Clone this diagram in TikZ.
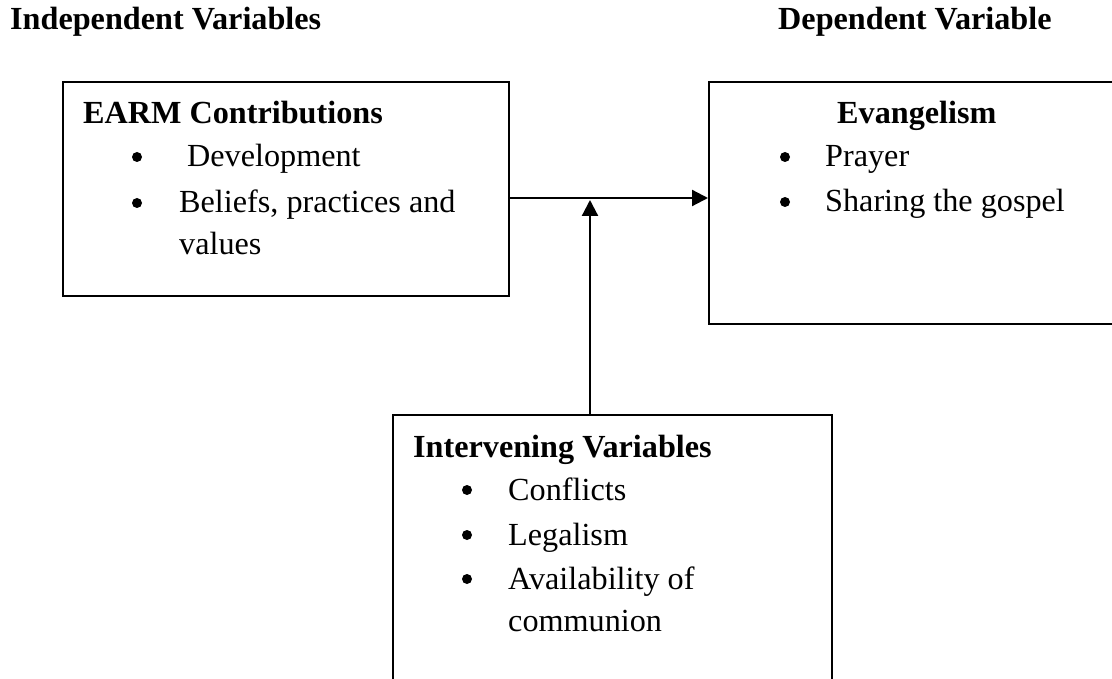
\documentclass[tikz,border=0pt]{standalone}
\usepackage{fontspec}
\setmainfont{Liberation Serif}
\usetikzlibrary{arrows.meta}
\tikzset{
  box/.style={draw=black, line width=2.2pt, inner sep=0pt, anchor=north west},
  txt/.style={anchor=base west, inner sep=0pt, font=\fontsize{32.2}{38}\selectfont},
  hd/.style={txt, font=\fontsize{32.2}{38}\selectfont\bfseries},
  bul/.style={circle, fill=black, inner sep=0pt, minimum size=10pt},
  arr/.style={line width=2.2pt, -{Triangle[length=16pt,width=16pt]}}
}
\begin{document}
\begin{tikzpicture}[x=1pt,y=-1pt]
\useasboundingbox (0,0) rectangle (1112,679);
\clip (0,0) rectangle (1112,679);
\fill[white] (0,0) rectangle (1112,679);

% headers
\node[hd] (hind) at (10,30) {Independent Variables};
\node[hd] (hdep) at (778,30) {Dependent Variable};

% boxes
\node[box, minimum width=446pt, minimum height=214pt] (earm) at (62,81) {};
\node[box, minimum width=430pt, minimum height=242pt] (eva) at (708,81) {};
\node[box, minimum width=439pt, minimum height=300pt] (intv) at (392,414) {};

% left box text
\node[hd] (t1) at (83,124) {EARM Contributions};
\node[bul] (b1) at (137,157) {};
\node[txt] (t2) at (187,167) {Development};
\node[bul] (b2) at (137,203) {};
\node[txt] (t3) at (179,213) {Beliefs, practices and};
\node[txt] (t4) at (179,255) {values};

% right box text
\node[hd] (t5) at (837,124) {Evangelism};
\node[bul] (b3) at (785,157) {};
\node[txt] (t6) at (825,167) {Prayer};
\node[bul] (b4) at (785,202) {};
\node[txt] (t7) at (825,212) {Sharing the gospel};

% bottom box text
\node[hd] (t8) at (413,457) {Intervening Variables};
\node[bul] (b5) at (467,490) {};
\node[txt] (t9) at (508,500) {Conflicts};
\node[bul] (b6) at (467,535) {};
\node[txt] (t10) at (508,545) {Legalism};
\node[bul] (b7) at (467,579) {};
\node[txt] (t11) at (508,589) {Availability of};
\node[txt] (t12) at (508,631) {communion};

% connectors
\coordinate (j) at (590,198);
\draw[arr] (earm.east |- j) -- (eva.west |- j);
\draw[arr] (j |- intv.north) -- ([yshift=-2pt]j);
\end{tikzpicture}
\end{document}
